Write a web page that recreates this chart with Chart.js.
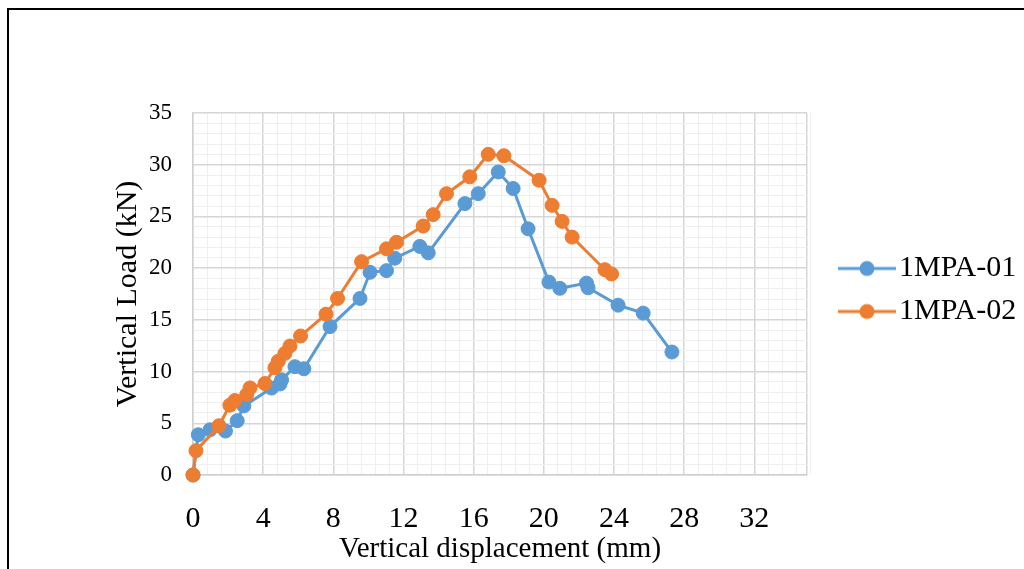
<!DOCTYPE html>
<html>
<head>
<meta charset="utf-8">
<title>Vertical load vs vertical displacement</title>
<script src="https://cdn.jsdelivr.net/npm/chart.js@4/dist/chart.umd.min.js"></script>
<style>
  html, body { margin: 0; padding: 0; background: #ffffff; }
  #wrap { width: 1024px; height: 569px; position: relative; }
  canvas { display: block; }
</style>
</head>
<body>
<div id="wrap"><canvas id="chart" width="1024" height="569"></canvas></div>
<script>
// Specimen 1MPA-01: displacement (mm) and load (kN)
const dispA = [0, 0.30, 0.97, 1.85, 2.52, 2.90, 4.48, 4.96, 5.05, 5.81, 6.32, 7.81, 9.52, 10.09, 11.03, 11.50, 12.93, 13.41, 15.50, 16.26, 17.40, 18.25, 19.10, 20.29, 20.91, 22.43, 22.52, 24.23, 25.66, 27.30];
const loadA = [0, 3.89, 4.37, 4.25, 5.25, 6.68, 8.40, 8.80, 9.20, 10.47, 10.27, 14.35, 17.07, 19.60, 19.76, 20.96, 22.10, 21.48, 26.24, 27.20, 29.30, 27.70, 23.80, 18.65, 18.05, 18.55, 18.10, 16.42, 15.65, 11.89];

// Specimen 1MPA-02: displacement (mm) and load (kN)
const dispB = [0, 0.17, 1.48, 2.10, 2.39, 3.06, 3.25, 4.10, 4.67, 4.86, 5.24, 5.53, 6.13, 7.58, 8.24, 9.61, 11.03, 11.60, 13.12, 13.69, 14.45, 15.78, 16.83, 17.72, 19.73, 20.47, 21.04, 21.61, 23.48, 23.86];
const loadB = [0, 2.35, 4.76, 6.75, 7.20, 7.77, 8.42, 8.84, 10.37, 11.00, 11.76, 12.47, 13.44, 15.55, 17.07, 20.63, 21.87, 22.50, 24.07, 25.17, 27.20, 28.83, 31.00, 30.87, 28.50, 26.07, 24.52, 23.00, 19.85, 19.44];

const seriesNames = ['1MPA-01', '1MPA-02'];
const seriesColors = ['#5b9bd5', '#ed7d31'];

// Axis tick labels (major) and minor grid spacing
const xTickLabels = [0, 4, 8, 12, 16, 20, 24, 28, 32];
const yTickLabels = [0, 5, 10, 15, 20, 25, 30, 35];
const xMinorStep = 0.8;
const yMinorStep = 1;
const xMax = 35;
const yMax = 35;

const SERIF = '"Liberation Serif", "Times New Roman", serif';

function pairs(xs, ys) {
  return xs.map((x, i) => ({ x: x, y: ys[i] }));
}

function isMajor(v, labels, max) {
  return labels.some(l => Math.abs(l - v) < 1e-6) || Math.abs(v - max) < 1e-6;
}

function buildTicks(step, max) {
  const out = [];
  const n = Math.round(max / step);
  for (let i = 0; i <= n; i++) out.push({ value: +(i * step).toFixed(4) });
  if (Math.abs(out[out.length - 1].value - max) > 1e-6) out.push({ value: max });
  return out;
}

// Legend swatch: a short line with a round marker, like the series style
function legendSwatch(color) {
  const c = document.createElement('canvas');
  c.width = 88; c.height = 18;
  const g = c.getContext('2d');
  g.strokeStyle = color;
  g.lineWidth = 3;
  g.beginPath();
  g.moveTo(30, 9); g.lineTo(88, 9);
  g.stroke();
  g.fillStyle = color;
  g.beginPath();
  g.arc(59, 9, 7.5, 0, Math.PI * 2);
  g.fill();
  return c;
}
const swatches = seriesColors.map(legendSwatch);

// White page, outer frame, and the legend block raised beside the plot
const framePlugin = {
  id: 'frame',
  afterLayout(chart) {
    const lg = chart.legend;
    if (lg) { lg.top -= 51; lg.bottom -= 51; }
  },
  beforeDraw(chart) {
    const ctx = chart.ctx;
    ctx.save();
    ctx.fillStyle = '#ffffff';
    ctx.fillRect(0, 0, chart.width, chart.height);
    ctx.restore();
  },
  afterDraw(chart) {
    const ctx = chart.ctx;
    ctx.save();
    ctx.strokeStyle = '#000000';
    ctx.lineWidth = 2;
    ctx.strokeRect(8, 9, 1200, 800);
    ctx.restore();
  }
};

function seriesStyle(i) {
  return {
    borderColor: seriesColors[i],
    backgroundColor: seriesColors[i],
    borderWidth: 3,
    pointRadius: 7,
    pointBorderWidth: 1,
    pointBackgroundColor: seriesColors[i],
    pointBorderColor: seriesColors[i],
    tension: 0,
    clip: false
  };
}

new Chart(document.getElementById('chart'), {
  type: 'line',
  data: {
    datasets: [
      Object.assign({ label: seriesNames[0], data: pairs(dispA, loadA), order: 1 }, seriesStyle(0)),
      Object.assign({ label: seriesNames[1], data: pairs(dispB, loadB), order: 0 }, seriesStyle(1))
    ]
  },
  options: {
    responsive: false,
    animation: false,
    devicePixelRatio: 1,
    layout: { padding: { top: 113, left: 0, right: 0, bottom: 0 } },
    plugins: {
      tooltip: { enabled: false },
      legend: {
        position: 'right',
        maxWidth: 217,
        labels: {
          usePointStyle: true,
          pointStyleWidth: 64,
          padding: 13,
          color: '#000000',
          font: { family: SERIF, size: 30 },
          sort: (a, b) => a.datasetIndex - b.datasetIndex,
          generateLabels(chart) {
            const base = Chart.defaults.plugins.legend.labels.generateLabels(chart);
            base.forEach(item => { item.pointStyle = swatches[item.datasetIndex]; });
            return base;
          }
        }
      }
    },
    scales: {
      x: {
        type: 'linear',
        min: 0,
        max: xMax,
        afterBuildTicks(scale) { scale.ticks = buildTicks(xMinorStep, xMax); },
        afterFit(scale) { scale.height = 94; },
        ticks: {
          autoSkip: false,
          maxRotation: 0,
          padding: 26,
          color: '#000000',
          font: { family: SERIF, size: 30 },
          callback: (v) => xTickLabels.some(l => Math.abs(l - v) < 1e-6) ? String(Math.round(v)) : ''
        },
        grid: {
          drawTicks: false,
          color: (ctx) => isMajor(ctx.tick.value, xTickLabels, xMax) ? '#d6d6d6' : '#efefef',
          lineWidth: (ctx) => isMajor(ctx.tick.value, xTickLabels, xMax) ? 1.5 : 1
        },
        border: { display: true, color: '#cfcfcf', width: 1.5 },
        title: {
          display: true,
          text: 'Vertical displacement (mm)',
          color: '#000000',
          font: { family: SERIF, size: 29 },
          padding: { top: 0, bottom: 2 }
        }
      },
      y: {
        type: 'linear',
        min: 0,
        max: yMax,
        afterBuildTicks(scale) { scale.ticks = buildTicks(yMinorStep, yMax); },
        afterFit(scale) { scale.width = 193; },
        ticks: {
          autoSkip: false,
          padding: 21,
          color: '#000000',
          font: { family: SERIF, size: 23 },
          callback: (v) => yTickLabels.some(l => Math.abs(l - v) < 1e-6) ? String(Math.round(v)) : ''
        },
        grid: {
          drawTicks: false,
          color: (ctx) => isMajor(ctx.tick.value, yTickLabels, yMax) ? '#d6d6d6' : '#efefef',
          lineWidth: (ctx) => isMajor(ctx.tick.value, yTickLabels, yMax) ? 1.5 : 1
        },
        border: { display: true, color: '#cfcfcf', width: 1.5 },
        title: {
          display: true,
          text: 'Vertical Load (kN)',
          color: '#000000',
          font: { family: SERIF, size: 30 },
          padding: { top: 110, bottom: 0 }
        }
      }
    }
  },
  plugins: [framePlugin]
});
</script>
</body>
</html>
